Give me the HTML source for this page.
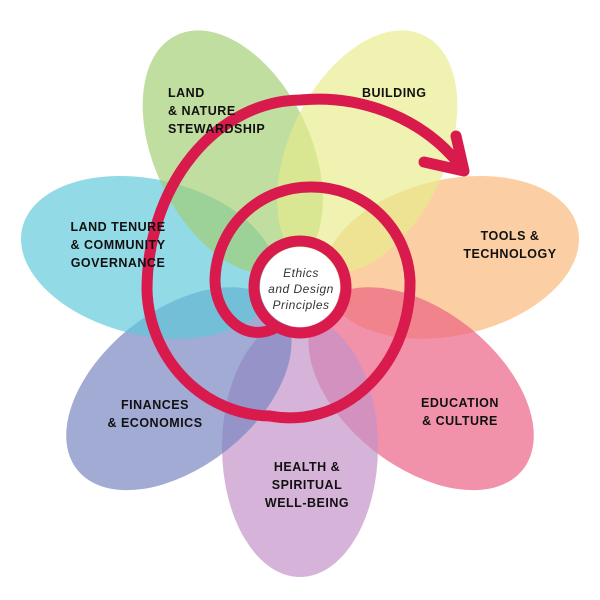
<!DOCTYPE html>
<html><head><meta charset="utf-8"><style>
body{margin:0;background:#fff;}
svg{display:block}
text{font-family:"Liberation Sans",sans-serif;font-weight:bold;font-size:12.5px;fill:#111;letter-spacing:0.5px}
ellipse{opacity:0.68}
</style></head><body>
<svg width="600" height="600" viewBox="0 0 600 600">
<g transform="translate(300,292)">
<ellipse cx="155" cy="0" rx="130" ry="78" fill="#f9b877" transform="rotate(-12.9)"/>
<ellipse cx="155" cy="0" rx="130" ry="78" fill="#ec5f82" transform="rotate(38.6)"/>
<ellipse cx="155" cy="0" rx="130" ry="78" fill="#c290c7" transform="rotate(90)"/>
<ellipse cx="155" cy="0" rx="130" ry="78" fill="#7683c0" transform="rotate(141.4)"/>
<ellipse cx="155" cy="0" rx="130" ry="78" fill="#5ec8da" transform="rotate(-167.1)"/>
<ellipse cx="155" cy="0" rx="130" ry="78" fill="#a0cf72" transform="rotate(-115.7)"/>
<ellipse cx="155" cy="0" rx="130" ry="78" fill="#e8ec8c" transform="rotate(-64.3)"/>
</g>
<g fill="none" stroke="#d81a4c" stroke-width="11" stroke-linecap="round">
<path d="M277,327 C245,345 215,315 215,280 A95,95 0 0 1 312,187 A98,98 0 0 1 410,280 A120,135 0 0 1 270,416 A125,130 0 0 1 147,290 A155,190 0 0 1 300,100 A175,160 0 0 1 462,168"/>
<polyline points="424,162 464,171 456,136" stroke-linejoin="round"/>
<circle cx="300" cy="287" r="46"/>
</g>
<circle cx="300" cy="287" r="40" fill="#fff"/>
<g text-anchor="middle">
<text x="301" y="277" style="font-weight:normal;font-style:italic;font-size:12px;fill:#333">Ethics</text>
<text x="301" y="293" style="font-weight:normal;font-style:italic;font-size:12px;fill:#333">and Design</text>
<text x="301" y="309" style="font-weight:normal;font-style:italic;font-size:12px;fill:#333">Principles</text>
</g>
<text x="168" y="97">LAND</text>
<text x="168" y="115">&amp; NATURE</text>
<text x="168" y="133">STEWARDSHIP</text>
<text x="362" y="97">BUILDING</text>
<g text-anchor="middle">
<text x="118" y="231">LAND TENURE</text>
<text x="118" y="249">&amp; COMMUNITY</text>
<text x="118" y="267">GOVERNANCE</text>
<text x="510" y="240">TOOLS &amp;</text>
<text x="510" y="258">TECHNOLOGY</text>
<text x="155" y="409">FINANCES</text>
<text x="155" y="427">&amp; ECONOMICS</text>
<text x="460" y="407">EDUCATION</text>
<text x="460" y="425">&amp; CULTURE</text>
<text x="307" y="471">HEALTH &amp;</text>
<text x="307" y="489">SPIRITUAL</text>
<text x="307" y="507">WELL-BEING</text>
</g>
</svg>
</body></html>
